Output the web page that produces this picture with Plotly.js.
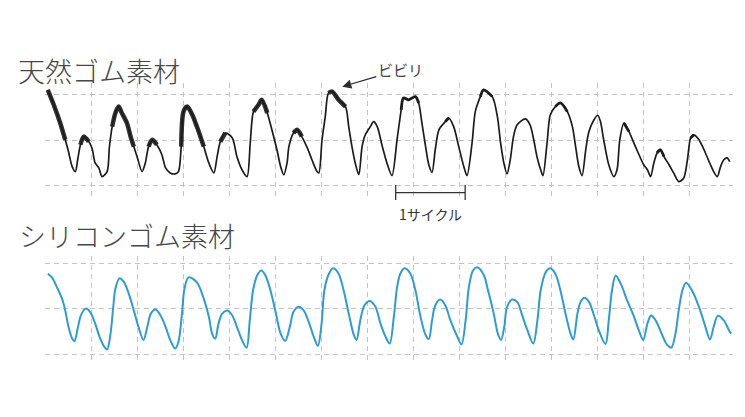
<!DOCTYPE html>
<html><head><meta charset="utf-8">
<script src="https://cdn.plot.ly/plotly-3.0.1.min.js"></script>
<style>html,body{margin:0;padding:0;background:#fff}#chart{width:745px;height:417px}</style>
</head><body><div id="chart"></div>
<script>
// Natural rubber (天然ゴム素材) waveform, x in grid divisions, y in grid units
const topX = [0.06,0.19,0.33,0.44,0.51,0.59,0.66,0.71,0.77,0.84,
  0.95,1.02,1.09,1.17,1.24,1.35,1.40,1.46,1.53,1.60,
  1.67,1.78,1.86,1.93,2.00,2.11,2.18,2.25,2.33,2.43,
  2.54,2.62,2.72,2.83,2.90,2.96,3.01,3.09,3.20,3.30,
  3.45,3.56,3.67,3.74,3.81,3.92,4.07,4.17,4.28,4.39,
  4.46,4.53,4.64,4.71,4.83,4.93,5.04,5.12,5.19,5.26,
  5.30,5.40,5.48,5.58,5.70,5.80,5.91,5.95,6.02,6.09,
  6.16,6.24,6.38,6.53,6.60,6.67,6.75,6.82,6.89,6.96,
  7.07,7.14,7.22,7.33,7.43,7.54,7.65,7.74,7.79,7.90,
  8.05,8.12,8.19,8.27,8.34,8.41,8.48,8.56,8.70,8.77,
  8.88,8.99,9.10,9.17,9.28,9.35,9.46,9.53,9.72,9.83,
  9.90,9.97,10.04,10.11,10.18,10.26,10.44,10.54,10.62,10.69,
  10.77,10.82,10.91,10.98,11.09,11.20,11.35,11.46,11.53,11.60,
  11.67,11.75,11.82,11.93,12.01,12.07,12.14,12.25,12.36,12.43,
  12.49,12.58,12.69,12.83,13.01,13.09,13.16,13.23,13.30,13.37,
  13.45,13.56,13.66,13.77,13.88,13.96,14.03,14.10,14.21,14.32,
  14.46,14.53,14.61,14.68,14.75,14.82,14.88];
const topY = [1.11,0.78,0.38,0.01,-0.25,-0.58,-0.69,-0.43,-0.10,0.08,
  -0.03,-0.17,-0.50,-0.61,-0.80,-0.69,-0.14,0.30,0.60,0.74,
  0.60,0.38,0.08,-0.14,-0.36,-0.69,-0.50,-0.14,0.01,-0.10,
  -0.32,-0.61,-0.72,-0.74,-0.69,-0.14,0.63,0.74,0.56,0.30,
  -0.14,-0.50,-0.72,-0.36,-0.03,0.16,0.05,-0.36,-0.65,-0.80,
  -0.06,0.63,0.78,0.89,0.60,0.23,-0.21,-0.58,-0.76,-0.50,
  -0.14,0.16,0.23,0.08,-0.17,-0.43,-0.69,-0.72,0.01,0.52,
  1.04,1.07,0.89,0.74,0.30,-0.14,-0.54,-0.76,-0.14,0.12,
  0.30,0.41,0.30,-0.14,-0.50,-0.78,0.01,0.67,0.93,0.89,
  0.96,0.82,0.38,-0.14,-0.54,-0.71,-0.21,0.23,0.41,0.49,
  0.30,-0.14,-0.58,-0.78,-0.06,0.63,0.96,1.11,0.96,0.52,
  -0.06,-0.50,-0.74,-0.43,0.08,0.34,0.47,0.34,0.01,-0.36,
  -0.65,-0.78,-0.06,0.56,0.74,0.82,0.63,0.30,-0.14,-0.58,
  -0.78,-0.21,0.19,0.45,0.55,0.41,0.01,-0.54,-0.80,-0.65,
  0.01,0.38,0.19,-0.14,-0.54,-0.65,-0.80,-0.50,-0.28,-0.21,
  -0.36,-0.54,-0.72,-0.91,-0.83,-0.43,0.05,0.12,0.01,-0.21,
  -0.54,-0.69,-0.80,-0.58,-0.43,-0.39,-0.47];

// Stretches of the natural rubber trace that show chatter (ビビリ)
const chatterHeavy = [[0.0,0.5],[0.72,1.0],[1.45,1.95],[2.2,2.5],[2.95,3.45],[3.75,4.0],[4.5,4.9],[5.35,5.6],[6.12,6.55]];
const chatterLight = [[7.74,8.12],[8.65,8.85],[9.45,9.72],[11.05,11.35],[12.55,12.75],[13.3,13.47],[14.03,14.2]];

// Silicone rubber (シリコンゴム素材) waveform
const botX = [0.06,0.15,0.26,0.37,0.44,0.51,0.59,0.64,0.71,0.78,
  0.88,0.98,1.09,1.20,1.29,1.35,1.42,1.48,1.53,1.62,
  1.72,1.82,1.93,2.03,2.14,2.23,2.30,2.40,2.51,2.62,
  2.72,2.83,2.90,2.98,3.03,3.12,3.30,3.45,3.56,3.64,
  3.70,3.77,3.85,3.96,4.07,4.17,4.28,4.38,4.45,4.52,
  4.61,4.70,4.79,4.90,5.01,5.12,5.22,5.32,5.40,5.51,
  5.62,5.73,5.84,5.93,6.01,6.07,6.17,6.26,6.38,6.49,
  6.60,6.71,6.77,6.85,6.94,7.06,7.18,7.29,7.40,7.49,
  7.58,7.65,7.72,7.81,7.94,8.05,8.16,8.27,8.34,8.41,
  8.48,8.59,8.70,8.81,8.96,9.05,9.14,9.21,9.30,9.39,
  9.54,9.61,9.75,9.84,9.91,9.98,10.04,10.15,10.26,10.37,
  10.48,10.61,10.70,10.77,10.88,10.97,11.09,11.20,11.31,11.42,
  11.48,11.57,11.64,11.72,11.82,11.93,12.03,12.18,12.25,12.32,
  12.40,12.51,12.65,12.80,12.90,13.00,13.09,13.17,13.27,13.41,
  13.52,13.61,13.70,13.77,13.85,13.93,14.06,14.21,14.33,14.45,
  14.53,14.62,14.75,14.86,14.91];
const botY = [0.77,0.69,0.47,0.22,-0.04,-0.40,-0.66,-0.72,-0.44,-0.15,
  0.0,-0.07,-0.33,-0.66,-0.84,-0.90,-0.58,0.0,0.44,0.67,
  0.58,0.33,-0.04,-0.40,-0.69,-0.37,-0.11,-0.02,-0.15,-0.40,
  -0.69,-0.88,-0.73,-0.07,0.44,0.69,0.58,0.22,-0.18,-0.58,
  -0.66,-0.33,-0.11,-0.04,-0.15,-0.40,-0.69,-0.86,-0.26,0.40,
  0.73,0.84,0.73,0.40,-0.07,-0.55,-0.71,-0.40,-0.07,0.04,
  -0.04,-0.29,-0.62,-0.82,-0.33,0.40,0.77,0.89,0.77,0.40,
  -0.11,-0.58,-0.69,-0.26,0.07,0.17,0.04,-0.33,-0.62,-0.77,
  -0.18,0.47,0.77,0.89,0.77,0.40,-0.18,-0.58,-0.67,-0.26,
  0.07,0.20,0.07,-0.26,-0.62,-0.79,-0.26,0.47,0.84,0.91,
  0.73,0.47,-0.11,-0.55,-0.69,-0.40,0.04,0.20,0.15,-0.15,
  -0.47,-0.77,-0.26,0.40,0.80,0.89,0.77,0.40,-0.11,-0.55,
  -0.68,-0.11,0.15,0.24,0.15,-0.15,-0.47,-0.78,-0.26,0.40,
  0.73,0.55,0.18,-0.18,-0.47,-0.69,-0.33,-0.15,-0.26,-0.58,
  -0.80,-0.86,-0.55,-0.04,0.40,0.57,0.40,0.04,-0.33,-0.68,
  -0.40,-0.16,-0.26,-0.47,-0.55];

const gridX = [1,2,3,4,5,6,7,8,9,10,11,12,13,14];
const gridY = [-1,0,1];
const titleTop = '天然ゴム素材';
const titleBot = 'シリコンゴム素材';
const chatterLabel = 'ビビリ';
const cycleLabel = '1サイクル';
const chatterPoint = [6.46, 1.18];
const cycleRange = [7.62, 9.13];

function segments(ranges){
  const xs=[], ys=[];
  ranges.forEach(r=>{
    for(let i=0;i<topX.length;i++){ if(topX[i]>=r[0] && topX[i]<=r[1]){xs.push(topX[i]);ys.push(topY[i]);} }
    xs.push(null); ys.push(null);
  });
  return {x:xs,y:ys};
}
const heavy = segments(chatterHeavy), light = segments(chatterLight);

const black = '#1c1c1c', blue = '#2b9cd8';
const traces = [
  {x:topX,y:topY,xaxis:'x',yaxis:'y',mode:'lines',line:{color:black,width:1.7,shape:'spline',smoothing:0.8},hoverinfo:'skip'},
  {x:heavy.x,y:heavy.y,xaxis:'x',yaxis:'y',mode:'lines',connectgaps:false,opacity:0.9,line:{color:black,width:4.5,shape:'spline',smoothing:0.8},hoverinfo:'skip'},
  {x:light.x,y:light.y,xaxis:'x',yaxis:'y',mode:'lines',connectgaps:false,line:{color:black,width:2.8,shape:'spline',smoothing:0.8},hoverinfo:'skip'},
  {x:botX,y:botY,xaxis:'x2',yaxis:'y2',mode:'lines',line:{color:blue,width:2,shape:'spline',smoothing:0.9},hoverinfo:'skip'}
];

const H = 417;
const axX = {range:[0,14.95],tickmode:'array',tickvals:gridX,showticklabels:false,ticks:'',showgrid:true,gridcolor:'#c4c4c4',gridwidth:1,griddash:'5px,4px',zeroline:false,showline:false,fixedrange:true};
const axY = {tickmode:'array',tickvals:gridY,showticklabels:false,ticks:'',showgrid:true,gridcolor:'#c4c4c4',gridwidth:1,griddash:'5px,4px',zeroline:false,showline:false,fixedrange:true};

const fontJP = '"Noto Sans CJK JP", "Noto Sans", sans-serif';
const layout = {
  width:745,height:417,margin:{l:45,r:12,t:0,b:0},
  paper_bgcolor:'#fff',plot_bgcolor:'#fff',showlegend:false,
  xaxis:Object.assign({},axX,{anchor:'y'}),
  xaxis2:Object.assign({},axX,{anchor:'y2'}),
  yaxis:Object.assign({},axY,{domain:[1-197/H,1-83/H],range:[-1.25,1.26]}),
  yaxis2:Object.assign({},axY,{domain:[1-364/H,1-256/H],range:[-1.22,1.16]}),
  annotations:[
    {xref:'paper',yref:'paper',x:(16-45)/688,y:1-70.5/H,xanchor:'left',yanchor:'middle',text:titleTop,showarrow:false,font:{family:fontJP,size:27,weight:300,color:'#474747'}},
    {xref:'paper',yref:'paper',x:(17-45)/688,y:1-235/H,xanchor:'left',yanchor:'middle',text:titleBot,showarrow:false,font:{family:fontJP,size:27,weight:300,color:'#474747'}},
    {xref:'x',yref:'y',x:chatterPoint[0],y:chatterPoint[1],text:chatterLabel,showarrow:true,ax:58,ay:-17,arrowhead:2,arrowsize:1.5,arrowwidth:1.2,arrowcolor:'#2a2a2a',standoff:0,font:{family:fontJP,size:15,color:'#444'}},
    {xref:'x',yref:'paper',x:(cycleRange[0]+cycleRange[1])/2,y:1-213.5/H,text:cycleLabel,showarrow:false,xanchor:'center',yanchor:'middle',font:{family:fontJP,size:14,color:'#333'}}
  ],
  shapes:[
    {type:'line',xref:'x',yref:'paper',x0:cycleRange[0],x1:cycleRange[1],y0:1-192.7/H,y1:1-192.7/H,line:{color:'#333',width:1.3}},
    {type:'line',xref:'x',yref:'paper',x0:cycleRange[0],x1:cycleRange[0],y0:1-185/H,y1:1-200/H,line:{color:'#333',width:1.3}},
    {type:'line',xref:'x',yref:'paper',x0:cycleRange[1],x1:cycleRange[1],y0:1-185/H,y1:1-200/H,line:{color:'#333',width:1.3}}
  ]
};
Plotly.newPlot('chart',traces,layout,{staticPlot:true,displayModeBar:false});
</script></body></html>
